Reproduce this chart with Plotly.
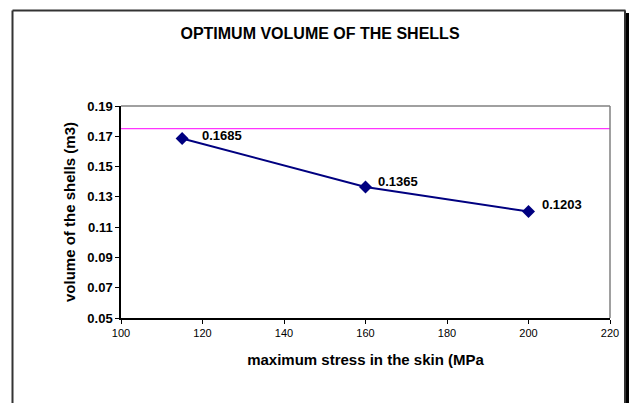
import plotly.graph_objects as go

stress = [115, 160, 200]
volume = [0.1685, 0.1365, 0.1203]
labels = ["0.1685", "0.1365", "0.1203"]
limit_volume = 0.175
x_ticks = [100, 120, 140, 160, 180, 200, 220]
y_ticks = [0.05, 0.07, 0.09, 0.11, 0.13, 0.15, 0.17, 0.19]

# label offsets (pixels) as placed in the original chart
label_dx = [18, 10, 11]
label_dy = [3, 6, 7]

FONT = "Arial, Liberation Sans, sans-serif"
L, R, T, B = 121, 20, 106, 85
W, H = 630, 403
pw, ph = W - L - R, H - T - B

def px(x):
    return (x - L) / pw

def py(y):
    return (H - B - y) / ph

fig = go.Figure()
fig.add_trace(go.Scatter(
    x=stress, y=volume, mode="lines+markers",
    line=dict(color="#000080", width=2),
    marker=dict(symbol="diamond", size=10, color="#000080"),
    showlegend=False, cliponaxis=False, hoverinfo="skip",
))

annotations = [
    dict(x=xv, y=yv, xref="x", yref="y", text="<b>%s</b>" % t, showarrow=False,
         xanchor="left", yanchor="middle", xshift=dx, yshift=dy,
         font=dict(family=FONT, size=13, color="black"))
    for xv, yv, t, dx, dy in zip(stress, volume, labels, label_dx, label_dy)
]

shapes = [
    # limit line
    dict(type="line", xref="paper", yref="y", x0=0, x1=1, y0=limit_volume, y1=limit_volume,
         line=dict(color="#FF00FF", width=1)),
    # plot-area border top/right (gray)
    dict(type="line", xref="paper", yref="paper", x0=0, x1=1, y0=1, y1=1,
         line=dict(color="#808080", width=1.5)),
    dict(type="line", xref="paper", yref="paper", x0=1, x1=1, y0=0, y1=1,
         line=dict(color="#808080", width=1.5)),
    # chart outer border
    dict(type="line", xref="paper", yref="paper", x0=px(12.5), x1=px(12.5), y0=py(10.5), y1=py(410),
         line=dict(color="#333333", width=2)),
    dict(type="line", xref="paper", yref="paper", x0=px(12.5), x1=px(625.5), y0=py(10.5), y1=py(10.5),
         line=dict(color="#333333", width=2)),
    dict(type="line", xref="paper", yref="paper", x0=px(625), x1=px(625), y0=py(10.5), y1=py(410),
         line=dict(color="#333333", width=2)),
    # shadow
    dict(type="line", xref="paper", yref="paper", x0=px(627.5), x1=px(627.5), y0=py(13), y1=py(410),
         line=dict(color="black", width=3)),
]

fig.update_layout(
    width=W, height=H,
    margin=dict(l=L, r=R, t=T, b=B),
    paper_bgcolor="white", plot_bgcolor="white",
    title=dict(text="<b>OPTIMUM VOLUME OF THE SHELLS</b>", x=320 / W, xanchor="center",
               y=1 - 33 / H, yanchor="middle",
               font=dict(family=FONT, size=16, color="black")),
    shapes=shapes,
    annotations=annotations,
    xaxis=dict(range=[100, 220], tickvals=x_ticks, ticks="outside", ticklen=4,
               tickcolor="black", showline=True, linecolor="black", linewidth=1.5,
               showgrid=False, zeroline=False,
               tickfont=dict(family=FONT, size=11, color="black"),
               title=dict(text="<b>maximum stress in the skin (MPa</b>", standoff=17,
                          font=dict(family=FONT, size=15, color="black"))),
    yaxis=dict(range=[0.05, 0.19], tickvals=y_ticks, tickformat=".2f", ticks="outside",
               ticklen=4, tickcolor="black", showline=True, linecolor="black", linewidth=1.5,
               showgrid=False, zeroline=False,
               tickfont=dict(family=FONT, size=13, color="black", weight="bold"),
               title=dict(text="<b>volume of the shells (m3)</b>", standoff=8,
                          font=dict(family=FONT, size=15, color="black"))),
)

fig.write_html("out.html", config={"displayModeBar": False},
               post_script="document.body.style.margin='0px';")
